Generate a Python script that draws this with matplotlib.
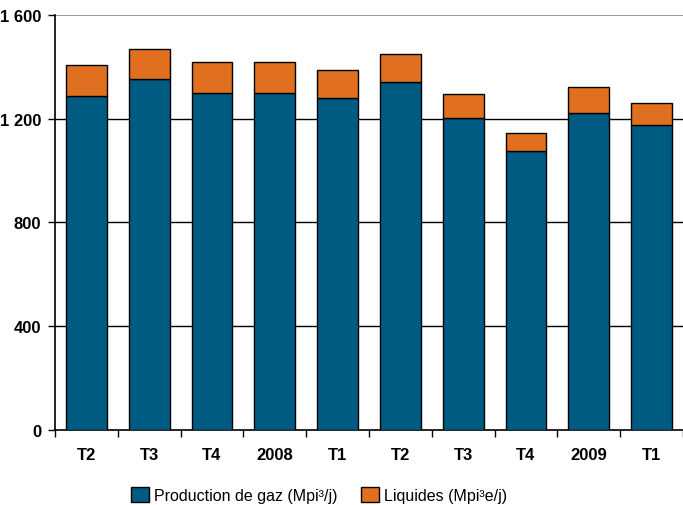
import numpy as np
import matplotlib
matplotlib.use('Agg')
import matplotlib.pyplot as plt
from matplotlib import ticker

categories = ['T2', 'T3', 'T4', '2008', 'T1', 'T2', 'T3', 'T4', '2009', 'T1']
gaz = [1289, 1352, 1299, 1299, 1280, 1342, 1202, 1074, 1223, 1177]
liquides = [119, 118, 120, 120, 108, 109, 93, 71, 98, 82]
yticks = [0, 400, 800, 1200, 1600]

BLUE = '#005b82'
ORANGE = '#e07020'

plt.rcParams['font.family'] = ['Liberation Sans', 'DejaVu Sans']

fig = plt.figure(figsize=(6.83, 5.06), dpi=100)
ax = fig.add_axes([55 / 683, 1 - 431 / 506, 1 - 55 / 683, 415 / 506])

x = np.arange(len(categories))
ax.bar(x, gaz, width=0.65, color=BLUE, edgecolor='black', linewidth=1,
       zorder=3, label='Production de gaz (Mpi³/j)')
ax.bar(x, liquides, width=0.65, bottom=gaz, color=ORANGE, edgecolor='black',
       linewidth=1, zorder=3, label='Liquides (Mpi³e/j)')

ax.set_xlim(-0.5, len(categories) - 0.5)
ax.set_ylim(0, 1600)

# horizontal grid
for y in yticks[1:-1]:
    ax.axhline(y, color='black', linewidth=1, zorder=1)
ax.axhline(1600, color='#888888', linewidth=1.2, zorder=1)

for side in ['top', 'right']:
    ax.spines[side].set_visible(False)
ax.spines['left'].set_linewidth(1.2)
ax.spines['bottom'].set_linewidth(1.2)

ax.set_yticks(yticks)
ax.yaxis.set_major_formatter(ticker.FuncFormatter(
    lambda v, pos: f'{int(v):,}'.replace(',', ' ')))
ax.tick_params(axis='y', direction='out', length=5, width=1, pad=5,
               labelsize=12)

ax.set_xticks(np.arange(len(categories) + 1) - 0.5)
ax.set_xticklabels([])
ax.set_xticks(x, minor=True)
ax.set_xticklabels(categories, minor=True)
ax.tick_params(axis='x', which='major', direction='out', length=5, width=1)
ax.tick_params(axis='x', which='minor', length=0, pad=12, labelsize=12)

for lbl in ax.get_yticklabels() + ax.get_xticklabels(minor=True):
    lbl.set_fontweight('bold')

fig.legend(loc='center', bbox_to_anchor=(319 / 683, 1 - 496 / 506),
           ncol=2, frameon=False, fontsize=11.5, handlelength=1.1,
           handleheight=1.1, handletextpad=0.3, columnspacing=1.5)

fig.savefig('out.png', dpi=100)
